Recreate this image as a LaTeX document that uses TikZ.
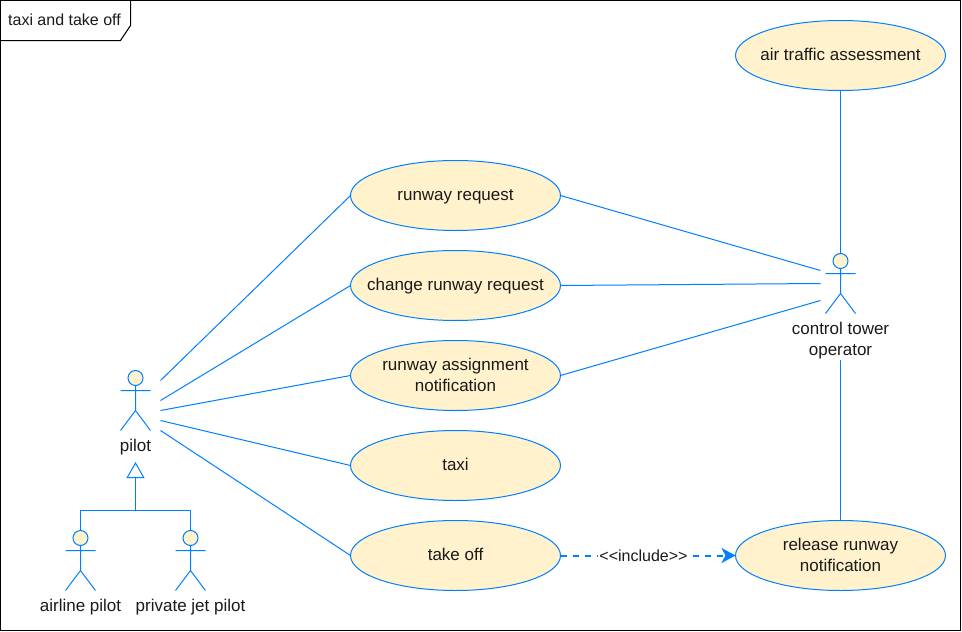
\documentclass[tikz,border=0pt]{standalone}
\usepackage{fontspec}
\setmainfont{Liberation Sans}
\usetikzlibrary{shapes.geometric,arrows.meta}
\definecolor{ublue}{HTML}{007FFF}
\definecolor{ufill}{HTML}{FFF2CC}
\definecolor{utext}{HTML}{1A1A1A}
\newcommand{\lstr}{\rule[-3pt]{0pt}{16pt}}
\tikzset{
  usecase/.style={ellipse,draw=ublue,fill=ufill,line width=1pt,minimum width=210pt,minimum height=70pt,inner sep=-45pt,outer sep=0pt,align=center,text=utext,font=\fontsize{17pt}{21pt}\selectfont},
  actorbox/.style={rectangle,minimum width=30pt,minimum height=60pt,inner sep=0pt,outer sep=0pt},
  actorlabel/.style={inner sep=0pt,align=center,text=utext,font=\fontsize{17pt}{21pt}\selectfont},
  titlelabel/.style={inner sep=0pt,text=utext,font=\fontsize{16pt}{20pt}\selectfont},
  link/.style={draw=ublue,line width=1pt},
  includelink/.style={draw=ublue,line width=2pt,dash pattern=on 6pt off 6pt,-{Stealth[length=14pt,width=15pt,inset=4pt]}},
  genlink/.style={draw=ublue,line width=1pt,-{Triangle[open,fill=white,length=16pt,width=18pt]}},
  framebox/.style={draw=black,line width=1pt},
}
\newcommand{\stickman}[1]{%
  \begin{scope}[shift={(#1.center)}]
    \draw[ublue,line width=1pt,fill=ufill] (0,-22.5) circle[radius=7.5pt];
    \draw[ublue,line width=1pt] (0,-15) -- (0,10) (-15,-10) -- (15,-10) (-15,30) -- (0,10) -- (15,30);
  \end{scope}}
\begin{document}
\begin{tikzpicture}[x=1pt,y=-1pt]
\useasboundingbox (0,0) rectangle (962,632);
\fill[white] (0,0) rectangle (962,632);
% frame
\draw[framebox] (0.5,0.5) rectangle (960.5,630.5);
\draw[framebox] (0.5,40.5) -- (120.5,40.5) -- (130.5,25.5) -- (130.5,0.5);
\node[titlelabel] (frametitle) at (64.5,20.7) {\lstr taxi and take off};
% use cases
\node[usecase] (air) at (840.5,55.5) {\lstr air traffic assessment};
\node[usecase] (request) at (455.5,195.5) {\lstr runway request};
\node[usecase] (change) at (455.5,285.5) {\lstr change runway request};
\node[usecase] (assign) at (455.5,375.5) {\lstr runway assignment\\\lstr notification};
\node[usecase] (taxi) at (455.5,465.5) {\lstr taxi};
\node[usecase] (takeoff) at (455.5,555.5) {\lstr take off};
\node[usecase] (release) at (840.5,555.5) {\lstr release runway\\\lstr notification};
% actors
\node[actorbox] (pilot) at (135.5,400.5) {};
\node[actorbox] (airline) at (80.5,560.5) {};
\node[actorbox] (private) at (190.5,560.5) {};
\node[actorbox] (tower) at (840.5,283.5) {};
\stickman{pilot}\stickman{airline}\stickman{private}\stickman{tower}
\node[actorlabel] (pilotlabel) at (135.5,446.7) {\lstr pilot};
\node[actorlabel] (airlinelabel) at (80.5,606.7) {\lstr airline pilot};
\node[actorlabel] (privatelabel) at (190.5,606.7) {\lstr private jet pilot};
\node[actorlabel] (towerlabel) at (840.5,340) {\lstr control tower\\\lstr operator};
% pilot links
\draw[link] ([shift={(10pt,20pt)}]pilot.east) -- (request.west);
\draw[link] ([shift={(10pt,0pt)}]pilot.east) -- (change.west);
\draw[link] ([shift={(10pt,-10pt)}]pilot.east) -- (assign.west);
\draw[link] ([shift={(10pt,-20pt)}]pilot.east) -- (taxi.west);
\draw[link] ([shift={(10pt,-30pt)}]pilot.east) -- (takeoff.west);
% tower links
\draw[link] (air.south) -- (tower.north);
\draw[link] (request.east) -- ([shift={(-5pt,13pt)}]tower.west);
\draw[link] (change.east) -- ([xshift=-5pt]tower.west);
\draw[link] (assign.east) -- ([shift={(-5pt,-17pt)}]tower.west);
\coordinate (towerbelow) at (840.5,360);
\draw[link] (release.north) -- (towerbelow);
% generalisation
\coordinate (genjunction) at (135.5,510.5);
\coordinate (gentip) at (135.5,462);
\draw[link] (airline.north) |- (genjunction);
\draw[link] (private.north) |- (genjunction);
\draw[genlink] (genjunction) -- (gentip);
% include
\draw[includelink] (takeoff.east) -- (release.west);
\node[inner sep=1pt,fill=white,text=utext,font=\fontsize{16pt}{18pt}\selectfont] (includelabel) at (643.5,556.7) {\lstr <{}<include>{}>};
\end{tikzpicture}
\end{document}
